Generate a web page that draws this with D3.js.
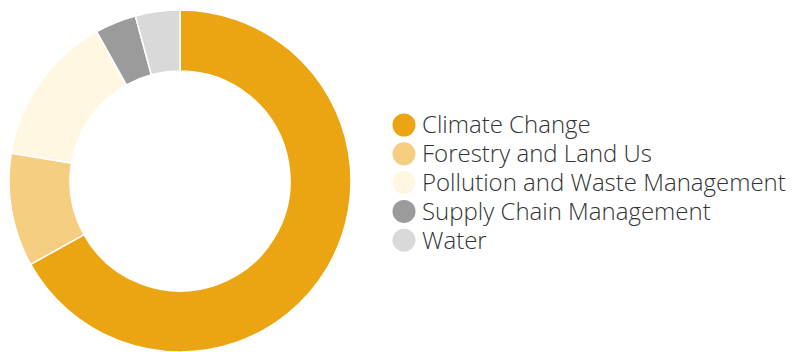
<!DOCTYPE html>
<html>
<head>
<meta charset="utf-8">
<script src="https://cdn.jsdelivr.net/npm/d3@7"></script>
<style>
  body { margin: 0; background: #fff; }
  text { font-family: "Open Sans", sans-serif; fill: #333; }
</style>
</head>
<body>
<div id="chart"></div>
<script>
// Data
const categories = ["Climate Change", "Forestry and Land Us", "Pollution and Waste Management", "Supply Chain Management", "Water"];
const values = [66.9, 10.7, 14.3, 3.9, 4.2];
const colors = ["#eca512", "#f6ce82", "#fff7e2", "#9b9b9b", "#d9d9d9"];

const width = 793;
const height = 352;
const cx = 180, cy = 181;
const outerR = 171, innerR = 110;

const colorScale = d3.scaleOrdinal().domain(categories).range(colors);

const svg = d3.select("#chart")
    .append("svg")
    .attr("width", width)
    .attr("height", height);

const pie = d3.pie().sort(null).value(d => d.value);
const arc = d3.arc().innerRadius(innerR).outerRadius(outerR);

const data = categories.map((c, i) => ({ name: c, value: values[i] }));

svg.append("g")
    .attr("transform", `translate(${cx},${cy})`)
    .selectAll("path")
    .data(pie(data))
    .enter().append("path")
    .attr("d", arc)
    .style("fill", d => colorScale(d.data.name))
    .style("stroke", "#fff")
    .style("stroke-width", 1.5);

// Legend
const legend = svg.selectAll(".legend")
    .data(categories)
    .enter().append("g")
    .attr("class", "legend")
    .attr("transform", (d, i) => `translate(404,${125 + i * 28.8})`);

legend.append("circle")
    .attr("r", 11.5)
    .style("fill", colorScale);

legend.append("text")
    .attr("x", 18)
    .attr("y", 0)
    .attr("dy", ".35em")
    .style("font-size", "24px")
    .style("font-weight", 300)
    .text(d => d);
</script>
</body>
</html>
